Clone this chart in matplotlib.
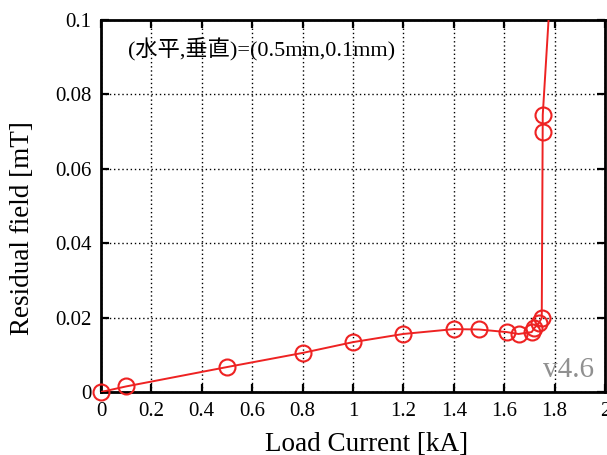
import matplotlib
matplotlib.use("Agg")
import matplotlib.pyplot as plt

current = [0.0, 0.1, 0.5, 0.8, 1.0, 1.2, 1.4, 1.5, 1.61, 1.657, 1.709, 1.72, 1.737, 1.749, 1.753, 1.753]
field = [0.0, 0.0015, 0.0067, 0.0105, 0.0134, 0.0156, 0.0169, 0.0168, 0.0161, 0.0156, 0.0161, 0.0172, 0.0185, 0.0199, 0.0700, 0.0745]
# path of the line: lower branch, then the vertical rise that continues beyond the top
line_current = [0.0, 0.1, 0.5, 0.8, 1.0, 1.2, 1.4, 1.5, 1.61, 1.657, 1.709, 1.72, 1.737, 1.749, 1.753, 1.785]
line_field = [0.0, 0.0015, 0.0067, 0.0105, 0.0134, 0.0156, 0.0169, 0.0168, 0.0161, 0.0156, 0.0161, 0.0172, 0.0185, 0.0199, 0.0745, 0.11]

xticks = [0, 0.2, 0.4, 0.6, 0.8, 1, 1.2, 1.4, 1.6, 1.8, 2]
xticklabels = ["0", "0.2", "0.4", "0.6", "0.8", "1", "1.2", "1.4", "1.6", "1.8", "2"]
yticks = [0, 0.02, 0.04, 0.06, 0.08, 0.1]
yticklabels = ["0", "0.02", "0.04", "0.06", "0.08", "0.1"]

plt.rcParams['font.family'] = ['Liberation Serif', 'Noto Sans CJK JP']

fig = plt.figure(figsize=(6.07, 4.55), dpi=100)
ax = fig.add_axes([0.1664, 0.1385, 0.8303, 0.8175])

red = '#ee2222'
ax.plot(line_current, line_field, color=red, lw=1.4, zorder=3)
ax.plot(current, field, linestyle='none', marker='o', ms=11.5, mfc='none', mec=red, mew=1.5,
        clip_on=False, zorder=4)

ax.set_xlim(0, 2)
ax.set_ylim(0, 0.1)
ax.set_xticks(xticks)
ax.set_xticklabels(xticklabels)
ax.set_yticks(yticks)
ax.set_yticklabels(yticklabels)
ax.tick_params(direction='in', length=6, width=1.6, top=True, right=True, labelsize=15, pad=7)
for s in ax.spines.values():
    s.set_linewidth(2.0)
ax.grid(True, color='black', linestyle=(0, (1, 2)), linewidth=1)

fig.text(366.5 / 607, 4 / 455, "Load Current [kA]", fontsize=19.5, ha='center', va='baseline')
fig.text(23 / 607, 1 - 228 / 455, "Residual field [mT]", fontsize=19.5, ha='center', va='center',
         rotation=90)

ax.text(0.054, 0.919, "(水平,垂直)=(0.5mm,0.1mm)", transform=ax.transAxes, fontsize=16,
        va='center', ha='left')
ax.text(0.979, 0.058, "v4.6", transform=ax.transAxes, fontsize=21, color='#909090',
        va='center', ha='right')

fig.savefig("out.png", dpi=100)
